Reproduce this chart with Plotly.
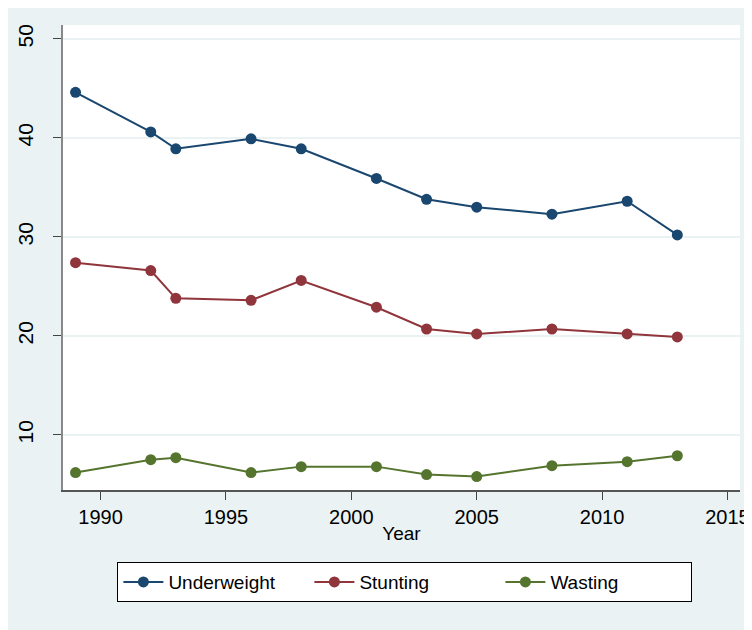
import plotly.graph_objects as go

years = [1989, 1992, 1993, 1996, 1998, 2001, 2003, 2005, 2008, 2011, 2013]
underweight = [44.6, 40.6, 38.9, 39.9, 38.9, 35.9, 33.8, 33.0, 32.3, 33.6, 30.2]
stunting = [27.4, 26.6, 23.8, 23.6, 25.6, 22.9, 20.7, 20.2, 20.7, 20.2, 19.9]
wasting = [6.2, 7.5, 7.7, 6.2, 6.8, 6.8, 6.0, 5.8, 6.9, 7.3, 7.9]

series_names = ["Underweight", "Stunting", "Wasting"]
series_colors = ["#1A476F", "#90353B", "#55752F"]
x_ticks = [1990, 1995, 2000, 2005, 2010, 2015]
y_ticks = [10, 20, 30, 40, 50]

fig = go.Figure()
for name, vals, col in zip(series_names, [underweight, stunting, wasting], series_colors):
    fig.add_trace(go.Scatter(
        x=years, y=vals, name=name, mode="lines+markers",
        line=dict(color=col, width=2),
        marker=dict(color=col, size=11),
    ))

bg = "#EAF2F3"
fig.update_layout(
    width=752, height=630,
    margin=dict(l=55, r=20, t=17, b=148),
    paper_bgcolor=bg,
    plot_bgcolor="white",
    font=dict(family="Liberation Sans, Arial", color="black"),
    showlegend=True,
    legend=dict(
        orientation="h", x=0.505, xanchor="center", y=-0.155, yanchor="top",
        bgcolor="white", bordercolor="black", borderwidth=1,
        font=dict(size=19, family="Liberation Sans, Arial"),
        entrywidth=136, itemwidth=40,
    ),
)
fig.update_xaxes(
    range=[1988.5, 2015.5], tickvals=x_ticks, ticks="outside", ticklen=8,
    tickcolor="#444", showline=True, linecolor="#555", linewidth=1.5,
    showgrid=False, zeroline=False, automargin=False,
    tickfont=dict(size=20, family="Liberation Sans, Arial"),
    title=dict(text="Year", font=dict(size=19, family="Liberation Sans, Arial"), standoff=0),
)
fig.update_yaxes(
    range=[4.44, 51.4], tickvals=y_ticks, ticks="outside", ticklen=8,
    tickcolor="#444", showline=True, linecolor="#888", linewidth=1.5,
    showgrid=True, gridcolor=bg, gridwidth=2, zeroline=False, automargin=False,
    tickangle=-90, ticklabelstandoff=12,
    tickfont=dict(size=21, family="Liberation Sans, Arial"),
)
fig.write_html("out.html")
